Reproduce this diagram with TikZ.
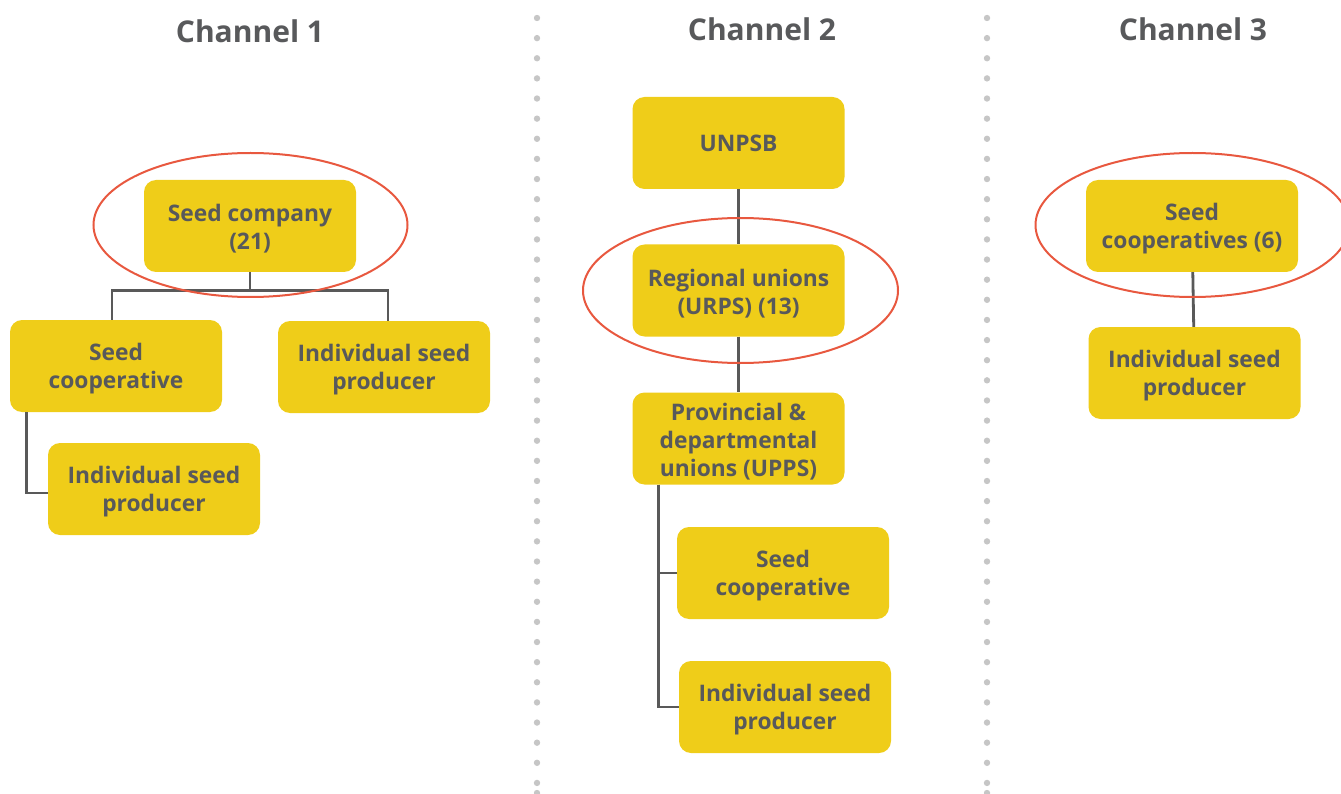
\documentclass[tikz,border=0pt]{standalone}
\usepackage{fontspec}
\setmainfont{Open Sans}
\definecolor{boxyellow}{HTML}{EFCD19}
\definecolor{txtgray}{HTML}{58595B}
\definecolor{linegray}{HTML}{595959}
\definecolor{ellred}{HTML}{E8583F}
\definecolor{dotgray}{HTML}{C6C6C6}
\begin{document}
\begin{tikzpicture}[x=1pt,y=-1pt,
  box/.style={fill=boxyellow, rounded corners=12pt, minimum width=212pt, minimum height=92pt,
    align=center, text=txtgray, font=\fontsize{22.8}{28}\selectfont\bfseries, inner sep=0pt},
  boxtext/.style={align=center, text=txtgray, font=\fontsize{22.8}{28}\selectfont\bfseries,
    inner sep=0pt, yshift=-3pt},
  title/.style={text=txtgray, font=\fontsize{30}{34}\selectfont\bfseries},
  conn/.style={draw=linegray, line width=2.8pt},
  mark ellipse/.style={draw=ellred, line width=2pt},
  dotsep/.style={fill=dotgray}]
\useasboundingbox (0,0) rectangle (1341,794);
\clip (0,0) rectangle (1341,794);
% separators
\foreach \i in {0,...,38} {
  \fill[dotsep] (537,18+\i*20.13) circle (3.2pt);
  \fill[dotsep] (987,18+\i*20.13) circle (3.2pt);
}
\fill[dotsep] (537,793) circle (3.2pt);
\fill[dotsep] (987,793) circle (3.2pt);
% titles
\node[title] (t1) at (250,31) {Channel 1};
\node[title] (t2) at (762,29) {Channel 2};
\node[title] (t3) at (1193,29) {Channel 3};
% channel 1
\node[box, label={[boxtext]center:{Seed company\\(21)}}] (sc) at (250,226) {};
\node[box, label={[boxtext]center:{Seed\\cooperative}}] (coop1) at (116,366) {};
\node[box, label={[boxtext]center:{Individual seed\\producer}}] (isp1) at (384,367) {};
\node[box, label={[boxtext]center:{Individual seed\\producer}}] (isp2) at (154,489) {};
\draw[conn] (sc.south) -- ++(0,18) coordinate (j1);
\draw[conn] (j1) -| ([xshift=-4pt]coop1.north);
\draw[conn] (j1) -| ([xshift=4pt]isp1.north);
\draw[conn] ([xshift=17pt]coop1.south west) |- ([yshift=-4pt]isp2.west);
\draw[mark ellipse] (250.5,225) ellipse [x radius=157pt, y radius=72pt];
% channel 2
\node[box] (unp) at (738.5,143) {UNPSB};
\node[box, label={[boxtext]center:{Regional unions\\(URPS) (13)}}] (reg) at (738.5,290.5) {};
\node[box, label={[boxtext]center:{Provincial \&\\departmental\\unions (UPPS)}}] (prov) at (738.5,438.5) {};
\node[box, label={[boxtext]center:{Seed\\cooperative}}] (coop2) at (783,573) {};
\node[box, label={[boxtext]center:{Individual seed\\producer}}] (isp3) at (785,707) {};
\draw[conn] (unp) -- (reg);
\draw[conn] (reg) -- (prov);
\draw[conn] ([xshift=26pt]prov.south west) |- (isp3.west);
\draw[conn] ([xshift=26pt]prov.south west) |- (coop2.west);
\draw[mark ellipse] (740.5,290.5) ellipse [x radius=157.5pt, y radius=72.5pt];
% channel 3
\node[box, label={[boxtext]center:{Seed\\cooperatives (6)}}] (coop3) at (1192,226) {};
\node[box, label={[boxtext]center:{Individual seed\\producer}}] (isp4) at (1194.5,373) {};
\draw[conn] (coop3) -- (isp4);
\draw[mark ellipse] (1192.5,225) ellipse [x radius=157pt, y radius=72pt];
\end{tikzpicture}
\end{document}
